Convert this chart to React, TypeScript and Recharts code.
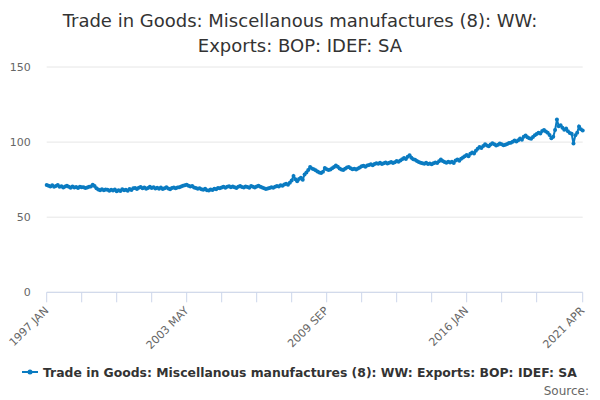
import { LineChart, Line, XAxis, YAxis, CartesianGrid } from 'recharts';

const TITLE = ['Trade in Goods: Miscellanous manufactures (8): WW:', 'Exports: BOP: IDEF: SA'];
const SERIES_NAME = 'Trade in Goods: Miscellanous manufactures (8): WW: Exports: BOP: IDEF: SA';

const MONTHS = ['JAN', 'FEB', 'MAR', 'APR', 'MAY', 'JUN', 'JUL', 'AUG', 'SEP', 'OCT', 'NOV', 'DEC'];
const START_YEAR = 1997;

// monthly values, Jan 1997 to Apr 2021, one row per year
const values = [
  71.5, 71, 70.5, 71.2, 70.3, 70.8, 71.5, 70.2, 70.6, 69.8, 70.4, 71,
  70.2, 69.6, 70.4, 69.8, 70.1, 69.5, 70.3, 69.9, 70, 69.4, 69.8, 70.2,
  70.5, 71.6, 70.8, 69.2, 68.4, 68, 68.6, 67.9, 68.5, 68.2, 67.6, 68.3,
  67.8, 68.4, 67.2, 68, 67.5, 68.6, 67.9, 68.3, 67.6, 68.8, 68.1, 69.2,
  69.5, 68.8, 69.6, 70.1, 69.2, 69.8, 68.9, 69.5, 70.2, 69.4, 69.9, 69.1,
  69.6, 69, 69.8, 68.7, 69.3, 69.9, 69.1, 68.6, 69.4, 69.8, 69.2, 69.7,
  70, 70.4, 70.9, 71.2, 71.6, 71, 70.5, 70.8, 69.8, 69.5, 68.9, 69.3,
  68.6, 68.2, 68.9, 68, 67.8, 68.5, 68.1, 69, 68.6, 69.5, 69.2, 69.8,
  70.3, 69.6, 70.2, 70.6, 69.9, 70.4, 70, 69.5, 70.3, 70.8, 70.1, 69.7,
  70.5, 70.1, 69.6, 70.8, 70.2, 69.8, 70.4, 70.9, 70.3, 69.7, 69.2, 68.8,
  69.1, 69.5, 70, 69.6, 70.3, 70.8, 70.4, 71.2, 71, 71.8, 72.3, 71.6,
  73, 74.5, 77.5, 75.2, 74, 75.5, 76.2, 75, 78.5, 79.8, 81.5, 83.5,
  82.5, 82, 81.2, 80.5, 79.8, 79.4, 80.2, 82.8, 82, 81.4, 81.8, 82.6,
  83.4, 84.5, 83.6, 82.5, 81.8, 81.5, 82.2, 83.1, 83.4, 82.6, 81.9, 82.3,
  81.7, 82.4, 83.1, 84, 84.3, 83.6, 84.5, 84.8, 85.2, 84.6, 85.4, 85.9,
  85.6, 86.2, 85.4, 86, 86.5, 85.8, 86.3, 86.8, 86.1, 86.6, 87.4, 87,
  87.8, 88.6, 89.4, 88.7, 90.2, 91.3, 89.6, 88.5, 88.2, 87.4, 86.8, 86.3,
  86, 85.6, 86.2, 85.4, 85.8, 85.2, 85.9, 86.4, 86.1, 87.2, 88.4, 87.5,
  86.8, 86.2, 87, 86.4, 86.9, 86.1, 87.8, 88.4, 87.6, 88.9, 89.8, 90.6,
  91.4, 90.6, 92.3, 93.1, 92.4, 94.2, 95.5, 96.8, 96.1, 97.4, 98.6, 97.8,
  97.2, 98.4, 99.2, 98.6, 97.8, 98.2, 99, 98.5, 97.9, 98.3, 98.8, 99.4,
  99.6, 100.2, 101, 100.4, 101.2, 102.4, 101.6, 103.6, 104.4, 103.2, 102.6, 102.2,
  103.4, 104.6, 105.4, 106.2, 105.8, 107.4, 108, 107.1, 106.3, 104.8, 102.6, 103.5,
  108, 115, 110.5, 111.2, 109.6, 108.3, 109, 107.2, 106, 105.5, 99, 104.5,
  106.2, 110.4, 108.5, 107.8,
];

const yTicks = [0, 50, 100, 150];
// tick marks every 19 months plus the last month; labels only on some
const xTicks = [0, 19, 38, 57, 76, 95, 114, 133, 152, 171, 190, 209, 228, 247, 266, 291];
const xLabelTicks = [0, 76, 152, 228, 291];

const monthLabel = (i: number) => `${START_YEAR + Math.floor(i / 12)} ${MONTHS[i % 12]}`;

const data = values.map((v, i) => ({ i, label: monthLabel(i), value: v }));

const BLUE = '#0a7bc1';
const FONT = '"DejaVu Sans", sans-serif';

const XTick = (props: any) => {
  const { x, y, payload } = props;
  if (!xLabelTicks.includes(payload.value)) return null;
  return (
    <g transform={`translate(${x + 2.5},${y + 9}) rotate(-45)`}>
      <text textAnchor="end" fill="#666666" fontSize={11} fontFamily={FONT}>
        {monthLabel(payload.value)}
      </text>
    </g>
  );
};

export default function App() {
  return (
    <div style={{ position: 'absolute', left: 0, top: 0, width: 600, height: 400, background: '#fff', fontFamily: FONT }}>
      <div style={{ position: 'absolute', top: 8, left: 0, width: 600, textAlign: 'center', fontSize: 18, lineHeight: '25px', color: '#333333' }}>
        {TITLE.map((t) => (
          <div key={t}>{t}</div>
        ))}
      </div>
      <LineChart width={600} height={400} data={data} margin={{ top: 67, right: 17.3, bottom: 47.7, left: 0 }}>
        <CartesianGrid horizontal vertical={false} stroke="#e6e6e6" />
        <XAxis
          dataKey="i"
          type="number"
          domain={[0, 291]}
          ticks={xTicks}
          interval={0}
          height={60}
          tickSize={10}
          tickMargin={0}
          axisLine={{ stroke: '#ccd6eb' }}
          tickLine={{ stroke: '#ccd6eb' }}
          tick={<XTick />}
        />
        <YAxis
          domain={[0, 150]}
          ticks={yTicks}
          width={46.7}
          tickSize={0}
          tickMargin={16}
          axisLine={false}
          tickLine={false}
          tick={{ fill: '#666666', fontSize: 11, fontFamily: FONT }}
        />
        <Line
          type="linear"
          dataKey="value"
          stroke={BLUE}
          strokeWidth={2}
          dot={{ r: 2, fill: BLUE, stroke: 'none' }}
          isAnimationActive={false}
        />
      </LineChart>
      <div style={{ position: 'absolute', left: 20, top: 364, display: 'flex', alignItems: 'center' }}>
        <svg width={20} height={16}>
          <line x1={2} y1={8} x2={18} y2={8} stroke={BLUE} strokeWidth={2} />
          <circle cx={10} cy={8} r={2.5} fill={BLUE} />
        </svg>
        <span style={{ fontSize: 12.4, fontWeight: 'bold', color: '#333333', marginLeft: 3 }}>{SERIES_NAME}</span>
      </div>
      <div style={{ position: 'absolute', right: 11, top: 384, fontSize: 12, color: '#666666' }}>Source:</div>
    </div>
  );
}
